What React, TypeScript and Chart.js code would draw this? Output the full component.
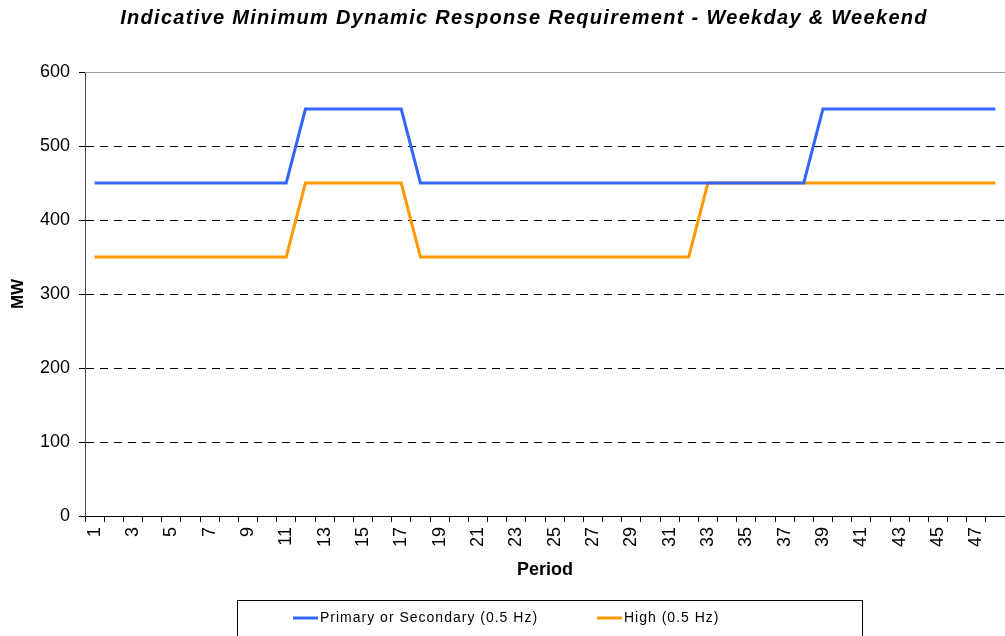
import React, { useEffect, useRef } from "react";
import { Chart, registerables } from "chart.js";

Chart.register(...registerables);

const periods = [
  "1", "2", "3", "4", "5", "6", "7", "8", "9", "10", "11", "12",
  "13", "14", "15", "16", "17", "18", "19", "20", "21", "22", "23", "24",
  "25", "26", "27", "28", "29", "30", "31", "32", "33", "34", "35", "36",
  "37", "38", "39", "40", "41", "42", "43", "44", "45", "46", "47", "48",
];

const primary = [
  450, 450, 450, 450, 450, 450, 450, 450, 450, 450, 450, 550,
  550, 550, 550, 550, 550, 450, 450, 450, 450, 450, 450, 450,
  450, 450, 450, 450, 450, 450, 450, 450, 450, 450, 450, 450,
  450, 450, 550, 550, 550, 550, 550, 550, 550, 550, 550, 550,
];

const high = [
  350, 350, 350, 350, 350, 350, 350, 350, 350, 350, 350, 450,
  450, 450, 450, 450, 450, 350, 350, 350, 350, 350, 350, 350,
  350, 350, 350, 350, 350, 350, 350, 350, 450, 450, 450, 450,
  450, 450, 450, 450, 450, 450, 450, 450, 450, 450, 450, 450,
];

const seriesNames = ["Primary or Secondary (0.5 Hz)", "High (0.5 Hz)"];
const seriesColors = ["#3366FF", "#FF9900"];
const titleText = "Indicative Minimum Dynamic Response Requirement - Weekday & Weekend";
const yMin = 0;
const yMax = 600;
const yStep = 100;

export default function App() {
  const ref = useRef<HTMLCanvasElement>(null);

  useEffect(() => {
    document.body.style.margin = "0";
    const canvas = ref.current;
    if (!canvas) return;

    const overlay = {
      id: "overlay",
      afterDraw(chart: any) {
        const ctx = chart.ctx;
        const a = chart.chartArea;
        ctx.save();
        // top plot border
        ctx.strokeStyle = "#999999";
        ctx.lineWidth = 1;
        ctx.beginPath();
        ctx.moveTo(a.left, Math.round(a.top) + 0.5);
        ctx.lineTo(a.right, Math.round(a.top) + 0.5);
        ctx.stroke();

        // title
        ctx.font = "italic bold 20px Arial";
        (ctx as any).letterSpacing = "1.3px";
        ctx.fillStyle = "#000";
        ctx.textAlign = "center";
        ctx.textBaseline = "middle";
        ctx.fillText(titleText, 524, 18);

        // legend box
        ctx.strokeStyle = "#000";
        ctx.lineWidth = 1;
        ctx.strokeRect(237.5, 600.5, 625, 60);
        const items = chart.data.datasets;
        const starts = [293, 597];
        ctx.font = "14px Arial";
        (ctx as any).letterSpacing = "1px";
        ctx.textAlign = "left";
        items.forEach((ds: any, i: number) => {
          const x = starts[i];
          ctx.strokeStyle = ds.borderColor;
          ctx.lineWidth = 3;
          ctx.beginPath();
          ctx.moveTo(x, 618);
          ctx.lineTo(x + 25, 618);
          ctx.stroke();
          ctx.fillStyle = "#000";
          ctx.fillText(ds.label, x + 27, 618);
        });
        (ctx as any).letterSpacing = "0px";
        ctx.restore();
      },
    };

    const chart = new Chart(canvas, {
      type: "line",
      data: {
        labels: periods,
        datasets: [
          {
            label: seriesNames[0],
            data: primary,
            borderColor: seriesColors[0],
            backgroundColor: seriesColors[0],
            borderWidth: 3,
            pointRadius: 0,
            tension: 0,
          },
          {
            label: seriesNames[1],
            data: high,
            borderColor: seriesColors[1],
            backgroundColor: seriesColors[1],
            borderWidth: 3,
            pointRadius: 0,
            tension: 0,
          },
        ],
      },
      options: {
        animation: false,
        responsive: false,
        layout: { padding: { top: 72, right: -2, bottom: 46, left: 0 } },
        plugins: {
          legend: { display: false },
          title: { display: false },
          tooltip: { enabled: false },
        },
        scales: {
          x: {
            type: "category",
            offset: true,
            grid: {
              offset: true,
              drawOnChartArea: false,
              drawTicks: true,
              tickLength: 6,
              tickColor: "#000",
              color: "#000",
            },
            border: { color: "#000", width: 1 },
            ticks: {
              autoSkip: false,
              maxRotation: 90,
              minRotation: 90,
              padding: 5,
              color: "#000",
              font: { family: "Arial", size: 18 },
              callback: (_v: any, i: number) => (i % 2 === 0 ? periods[i] : ""),
            },
            title: {
              display: true,
              text: "Period",
              color: "#000",
              font: { family: "Arial", size: 18, weight: "bold" },
              padding: { top: 0, bottom: 9 },
            },
            afterFit: (s: any) => {
              s.height = 74;
              s.paddingRight = 0;
              s.paddingLeft = 0;
            },
          },
          y: {
            min: yMin,
            max: yMax,
            ticks: {
              stepSize: yStep,
              padding: 9,
              color: "#000",
              font: { family: "Arial", size: 18 },
            },
            grid: {
              drawTicks: true,
              tickLength: 6,
              tickColor: "#000",
              color: (c: any) =>
                c.tick && (c.tick.value === yMin || c.tick.value === yMax) ? "rgba(0,0,0,0)" : "#000",
            },
            border: { color: "#444", width: 1, dash: [8, 6] },
            title: {
              display: true,
              text: "MW",
              color: "#000",
              font: { family: "Arial", size: 17, weight: "bold" },
              padding: { top: 8, bottom: 0 },
            },
            afterFit: (s: any) => {
              s.width = 85;
            },
          },
        },
      },
      plugins: [overlay],
    } as any);

    return () => chart.destroy();
  }, []);

  return (
    <div style={{ width: 1005, height: 636 }}>
      <canvas ref={ref} width={1005} height={636} style={{ display: "block" }} />
    </div>
  );
}
